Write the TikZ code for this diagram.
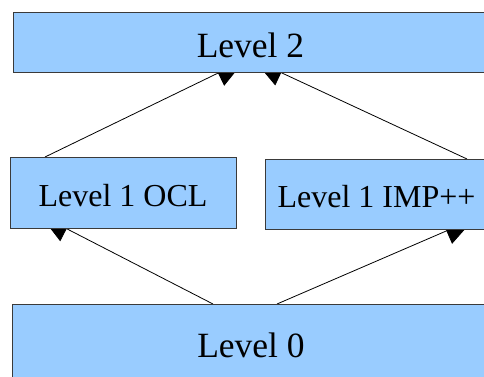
\documentclass[tikz,border=0pt]{standalone}
\usepackage{fontspec}
\setmainfont{Liberation Serif}
\usetikzlibrary{arrows.meta,calc}
\pgfdeclarelayer{background}
\pgfsetlayers{background,main}
\definecolor{boxfill}{HTML}{99CCFF}
\definecolor{boxline}{HTML}{3A3A3A}
\tikzset{
  levelbox/.style={draw=boxline, fill=boxfill, line width=0.8pt, rectangle,
    inner sep=0pt, outer sep=0pt, text depth=0pt},
  bigtext/.style={font=\fontsize{35.5}{40}\selectfont, text height=30.5pt},
  midtext/.style={font=\fontsize{32}{38}\selectfont, text height=27.5pt},
  conn/.style={draw=black, line width=0.8pt, -{Triangle[length=30pt,width=28pt]}}
}
\begin{document}
\begin{tikzpicture}[x=1pt,y=-1pt]
\clip (0,0) rectangle (484,376);
\node[levelbox,bigtext,minimum width=475pt,minimum height=60pt] (l2) at (250.5,42) {Level 2};
\node[levelbox,midtext,minimum width=226pt,minimum height=71pt] (ocl) at (123,192.5) {Level 1 OCL};
\node[levelbox,midtext,minimum width=223pt,minimum height=70pt] (imp) at (376.5,194) {Level 1 IMP++};
\node[levelbox,bigtext,minimum width=478pt,minimum height=77pt] (l0) at (251,342.5) {Level 0};
\coordinate (t1) at ($(l2.south west)+(232,-12)$);
\coordinate (t2) at ($(l2.south west)+(241,-12)$);
\coordinate (t3) at ($(ocl.south west)+(30,-13)$);
\coordinate (t4) at ($(imp.south west)+(209,-10)$);
\begin{pgfonlayer}{background}
\fill[white] (0,0) rectangle (484,376);
\draw[conn] ($(ocl.north west)+(35,0)$) -- (t1);
\draw[conn] ($(imp.north west)+(202,0)$) -- (t2);
\draw[conn] ($(l0.north west)+(201,0)$) -- (t3);
\draw[conn] ($(l0.north west)+(265,0)$) -- (t4);
\end{pgfonlayer}
\end{tikzpicture}
\end{document}
